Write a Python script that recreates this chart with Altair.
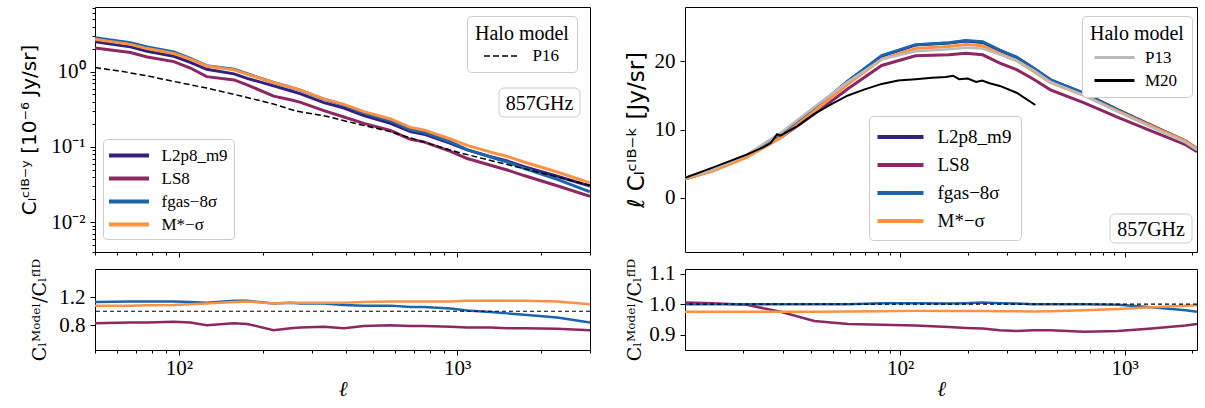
import altair as alt
import pandas as pd

# ---------------- data ----------------
MODELS = ["L2p8_m9", "LS8", "fgas−8σ", "M*−σ"]
COLORS = ["#34207d", "#8c2762", "#1c64ab", "#fd9144"]

# CIB x y (left column)
ell_y = [50, 67, 77, 96, 110, 126, 158, 176, 219, 252, 274, 332, 392, 462,
         576, 679, 759, 946, 1086, 1318, 1513, 1738, 2287, 3000]
cy_fid = [2.51, 2.15, 1.88, 1.61, 1.34, 1.08, 0.94, 0.82, 0.65, 0.56, 0.51,
          0.39, 0.33, 0.261, 0.207, 0.160, 0.148, 0.112, 0.0913, 0.0743,
          0.0650, 0.0548, 0.0407, 0.0302]
ratio_y_ls8 = [0.83, 0.84, 0.84, 0.85, 0.84, 0.80, 0.83, 0.82, 0.73, 0.76, 0.77,
               0.78, 0.76, 0.79, 0.80, 0.79, 0.79, 0.78, 0.77, 0.77, 0.76, 0.76,
               0.75, 0.73]
ratio_y_fgas = [1.13, 1.14, 1.14, 1.14, 1.13, 1.12, 1.15, 1.15, 1.11, 1.12, 1.11,
                1.11, 1.09, 1.08, 1.08, 1.06, 1.06, 1.04, 1.01, 0.99, 0.97, 0.95,
                0.91, 0.84]
ratio_y_mstar = [1.08, 1.08, 1.085, 1.09, 1.10, 1.11, 1.13, 1.14, 1.11, 1.12, 1.12,
                 1.12, 1.12, 1.13, 1.14, 1.14, 1.14, 1.14, 1.15, 1.15, 1.15, 1.15,
                 1.14, 1.10]
ell_p16 = [50, 63, 77, 96, 126, 166, 219, 266, 332, 437, 576, 679, 759, 1000,
           1318, 1738, 2287, 3000]
p16 = [1.14, 1.01, 0.885, 0.745, 0.608, 0.481, 0.373, 0.298, 0.261, 0.203,
       0.160, 0.132, 0.116, 0.0857, 0.066, 0.0515, 0.040, 0.031]

# CIB x kappa (right column)
ell_k = [11, 14.6, 20.7, 29.3, 41.4, 58.5, 82.7, 117, 165, 196, 233, 278, 330,
         393, 467, 660, 933, 1319, 1866, 2100]
ck_fid = [2.77, 4.0, 6.05, 9.03, 13.0, 17.1, 20.8, 22.4, 22.7, 23.0, 22.8, 21.6,
          20.6, 19.0, 17.3, 15.3, 12.9, 10.6, 8.35, 7.2]
ratio_k_ls8 = [1.005, 1.003, 0.998, 0.975, 0.945, 0.935, 0.933, 0.93, 0.925,
               0.922, 0.92, 0.915, 0.912, 0.915, 0.915, 0.91, 0.912, 0.92, 0.93,
               0.935]
ratio_k_fgas = [1.0, 1.0, 1.0, 1.0, 1.0, 1.0, 1.003, 1.003, 1.002, 1.003, 1.005,
                1.003, 1.002, 1.0, 1.0, 1.0, 0.998, 0.99, 0.98, 0.975]
ratio_k_mstar = [0.975, 0.975, 0.975, 0.975, 0.975, 0.976, 0.977, 0.978, 0.978,
                 0.978, 0.978, 0.977, 0.977, 0.976, 0.977, 0.98, 0.984, 0.99,
                 0.995, 0.996]
p13 = [2.9, 4.1, 6.3, 9.5, 13.3, 17.0, 20.3, 21.5, 21.8, 22.0, 21.9, 21.0, 20.1,
       18.7, 17.0, 15.0, 12.6, 10.3, 8.1, 7.0]
ell_m20 = [11, 14.6, 20.7, 24.6, 26.5, 28.3, 29.3, 34.8, 41.4, 49.2, 58.5, 69.5,
           82.7, 98, 117, 139, 160, 172, 183, 200, 218, 232, 250, 278, 330, 400]
m20 = [2.9, 4.4, 6.3, 7.4, 8.0, 9.3, 9.1, 10.5, 12.3, 13.7, 15.0, 15.9, 16.7,
       17.2, 17.4, 17.6, 17.7, 17.9, 17.4, 17.5, 17.0, 17.2, 16.8, 16.4, 15.4, 13.6]

# ---------------- frames ----------------
def model_frames(ell, fid, r_ls8, r_fgas, r_mstar):
    ratios = {MODELS[0]: [1.0] * len(ell), MODELS[1]: r_ls8,
              MODELS[2]: r_fgas, MODELS[3]: r_mstar}
    out = {}
    for m in MODELS:
        out[m] = pd.DataFrame({"ell": ell,
                               "value": [f * r for f, r in zip(fid, ratios[m])],
                               "ratio": ratios[m], "model": m})
    return out

cy = model_frames(ell_y, cy_fid, ratio_y_ls8, ratio_y_fgas, ratio_y_mstar)
ck = model_frames(ell_k, ck_fid, ratio_k_ls8, ratio_k_fgas, ratio_k_mstar)
df_p16 = pd.DataFrame({"ell": ell_p16, "value": p16, "src": "P16"})
df_p13 = pd.DataFrame({"ell": ell_k, "value": p13, "src": "P13"})
df_m20 = pd.DataFrame({"ell": ell_m20, "value": m20, "src": "M20"})
one = pd.DataFrame({"a": [0]})

# ---------------- styling ----------------
SERIF = "Liberation Serif"
WL, WR, HT, HB = 495, 512, 245, 81
LABEL_FS = 21
MAJOR = "abs(log(datum.value)/LN10 - round(log(datum.value)/LN10)) < 0.001"
LOGLAB = ("(" + MAJOR + ") ? '10' + replace(replace(replace(replace(replace(''"
          "+round(log(datum.value)/LN10), '-', '⁻'), '0', '⁰'), '1', '¹'), '2', '²'), '3', '³') : ''")
TICKS = {"condition": {"test": MAJOR, "value": 5}, "value": 3}
LOG_FS = {"condition": {"test": MAJOR, "value": LABEL_FS}, "value": 0}


def minors(lo, hi):
    vals = []
    for e in range(-3, 4):
        for k in range(1, 10):
            v = round(k * 10 ** e, 6)
            if lo <= v <= hi:
                vals.append(v)
    return vals


def xaxis(vals, labels):
    kw = dict(values=vals, tickSize=TICKS, labelExpr=LOGLAB, labelOverlap=False,
              labelFlush=False, labelFont=SERIF, labelFontSize=LOG_FS, labelPadding=2)
    if labels:
        return alt.Axis(title="ℓ", titleFont="DejaVu Serif", titleFontStyle="italic",
                        titleFontSize=21, titlePadding=0, **kw)
    return alt.Axis(title=None, labels=False, **kw)


XL_VALS = minors(50, 3000)
XR_VALS = minors(11, 2100)
xl_scale = alt.Scale(type="log", domain=[50, 3000], nice=False)
xr_scale = alt.Scale(type="log", domain=[11, 2100], nice=False)
model_scale = alt.Scale(domain=MODELS, range=COLORS)


def halo_legend(x, y, root, half_len, sw, sym_off, lab_off, row_pad, dash=None):
    s = half_len / (root / 2.0)
    kw = dict(orient="none", legendX=x, legendY=y, title="Halo model",
              titleFont=SERIF, titleFontSize=20, titleFontWeight="normal",
              titleColor="black", titlePadding=3,
              symbolType="M-%.3f,0H%.3f" % (s, s), symbolSize=root * root,
              symbolStrokeWidth=sw, symbolOffset=sym_off, labelOffset=lab_off,
              labelFont=SERIF, labelFontSize=17, labelColor="black",
              rowPadding=row_pad, padding=8, strokeColor="#cccccc",
              fillColor="white", cornerRadius=4)
    if dash:
        kw["symbolDash"] = dash
        kw["symbolStrokeColor"] = "black"
    return alt.Legend(**kw)


def ghz_box(x1, x2, y1, y2):
    rect = alt.Chart(one).mark_rect(cornerRadius=5, fill="white", stroke="#cccccc",
                                    strokeWidth=1).encode(
        x=alt.value(x1), x2=alt.value(x2), y=alt.value(y1), y2=alt.value(y2))
    txt = alt.Chart(one).mark_text(text="857GHz", font=SERIF, fontSize=20,
                                   color="black", align="center", baseline="middle").encode(
        x=alt.value((x1 + x2) / 2), y=alt.value((y1 + y2) / 2 + 1))
    return [rect, txt]


# ---------------- top left ----------------
x_tl = alt.X("ell:Q", scale=xl_scale, axis=xaxis(XL_VALS, False))
y_tl = alt.Y("value:Q", scale=alt.Scale(type="log", domain=[0.004, 7.3], nice=False),
             axis=alt.Axis(values=minors(0.004, 7.3), tickSize=TICKS, labelExpr=LOGLAB,
                           labelOverlap=False, labelFlush=False, labelFont=SERIF,
                           labelFontSize=LOG_FS, labelPadding=5,
                           title="Cₗᶜᴵᴮ⁻ʸ [10⁻⁶ Jy/sr]", titleFont="DejaVu Sans",
                           titleFontSize=20, titlePadding=11))
leg_l = alt.Legend(orient="none", legendX=8, legendY=132, title=None,
                   symbolType="M-2.353,0H2.353", symbolSize=289, symbolStrokeWidth=4,
                   symbolOffset=9.5, labelOffset=22, labelFont=SERIF, labelFontSize=17,
                   labelColor="black", rowPadding=4, padding=6, strokeColor="#cccccc",
                   fillColor="white", cornerRadius=4)
col_tl = alt.Color("model:N", scale=model_scale, legend=leg_l)
tl_models = alt.layer(*[
    alt.Chart(cy[m]).mark_line(strokeWidth=3, clip=True).encode(x=x_tl, y=y_tl, color=col_tl)
    for m in MODELS])
tl_halo = alt.Chart(df_p16).mark_line(strokeWidth=1.5, strokeDash=[6, 3], clip=True).encode(
    x=x_tl, y=y_tl,
    color=alt.Color("src:N", scale=alt.Scale(domain=["P16"], range=["black"]),
                    legend=halo_legend(372, 9, 16, 16.5, 1.5, 16.5, 23, 4, dash=[6, 3])))
top_left = alt.layer(tl_models, tl_halo, *ghz_box(404, 485, 81, 110)).resolve_scale(
    color="independent").properties(width=WL, height=HT)

# ---------------- bottom left ----------------
x_bl = alt.X("ell:Q", scale=xl_scale, axis=xaxis(XL_VALS, True))
y_bl = alt.Y("ratio:Q", scale=alt.Scale(domain=[0.45, 1.6], nice=False),
             axis=alt.Axis(values=[0.8, 1.2], format=".1f", tickSize=5, labelFont=SERIF,
                           labelFontSize=LABEL_FS, labelPadding=5,
                           title="Cₗᴹᵒᵈᵉˡ/Cₗᶠᴵᴰ", titleFont="DejaVu Serif",
                           titleFontSize=19, titlePadding=9))
col_r = alt.Color("model:N", scale=model_scale, legend=None)
bl_lines = [alt.Chart(cy[m]).mark_line(strokeWidth=2.5, clip=True).encode(
    x=x_bl, y=y_bl, color=col_r) for m in MODELS[1:]]
bl_rule = alt.Chart(one).mark_rule(color="black", strokeDash=[4, 3], strokeWidth=1.2).encode(
    y=alt.datum(1.0))
bottom_left = alt.layer(*bl_lines, bl_rule).properties(width=WL, height=HB)

# ---------------- top right ----------------
x_tr = alt.X("ell:Q", scale=xr_scale, axis=xaxis(XR_VALS, False))
y_tr = alt.Y("value:Q", scale=alt.Scale(domain=[-8, 28], nice=False),
             axis=alt.Axis(values=[0, 10, 20], tickSize=5, labelFont=SERIF,
                           labelFontSize=LABEL_FS, labelPadding=5,
                           title="ℓ Cₗᶜᴵᴮ⁻ᵏ [Jy/sr]", titleFont="DejaVu Sans",
                           titleFontSize=23, titlePadding=6))
leg_r = alt.Legend(orient="none", legendX=184, legendY=109, title=None,
                   symbolType="M-2.3,0H2.3", symbolSize=400, symbolStrokeWidth=4,
                   symbolOffset=10.5, labelOffset=25, labelFont=SERIF, labelFontSize=19,
                   labelColor="black", rowPadding=6, padding=9, strokeColor="#cccccc",
                   fillColor="white", cornerRadius=4)
col_tr = alt.Color("model:N", scale=model_scale, legend=leg_r)
tr_models = alt.layer(*[
    alt.Chart(ck[m]).mark_line(strokeWidth=3, clip=True).encode(x=x_tr, y=y_tr, color=col_tr)
    for m in MODELS])
halo_r_scale = alt.Scale(domain=["P13", "M20"], range=["#bbbbbb", "black"])
leg_hr = halo_legend(397, 9, 18, 20, 3, 14, 20, 4)
tr_p13 = alt.Chart(df_p13).mark_line(strokeWidth=2.5, clip=True).encode(
    x=x_tr, y=y_tr, color=alt.Color("src:N", scale=halo_r_scale, legend=leg_hr))
tr_m20 = alt.Chart(df_m20).mark_line(strokeWidth=2, clip=True).encode(
    x=x_tr, y=y_tr, color=alt.Color("src:N", scale=halo_r_scale, legend=leg_hr))
top_right = alt.layer(tr_models, alt.layer(tr_p13, tr_m20),
                      *ghz_box(425, 507, 207, 236)).resolve_scale(
    color="independent").properties(width=WR, height=HT)

# ---------------- bottom right ----------------
x_br = alt.X("ell:Q", scale=xr_scale, axis=xaxis(XR_VALS, True))
y_br = alt.Y("ratio:Q", scale=alt.Scale(domain=[0.85, 1.115], nice=False),
             axis=alt.Axis(values=[0.9, 1.0, 1.1], format=".1f", tickSize=5,
                           labelFont=SERIF, labelFontSize=LABEL_FS, labelPadding=5,
                           title="Cₗᴹᵒᵈᵉˡ/Cₗᶠᴵᴰ", titleFont="DejaVu Serif",
                           titleFontSize=19, titlePadding=4))
br_lines = [alt.Chart(ck[m]).mark_line(strokeWidth=2.5, clip=True).encode(
    x=x_br, y=y_br, color=col_r) for m in MODELS[1:]]
br_rule = alt.Chart(one).mark_rule(color="black", strokeDash=[4, 3], strokeWidth=1.2).encode(
    y=alt.datum(1.0))
bottom_right = alt.layer(*br_lines, br_rule).properties(width=WR, height=HB)

# ---------------- assemble ----------------
chart = alt.concat(top_left, top_right, bottom_left, bottom_right, columns=2,
                   spacing={"row": 17, "column": 95}, bounds="flush",
                   align="each").resolve_scale(
    color="independent").resolve_legend(color="independent").properties(
    padding={"left": 19, "top": 6, "right": 5, "bottom": 0},
    background="white").configure_view(stroke="black", strokeWidth=1).configure_axis(
    domain=False, grid=False, tickColor="black", labelColor="black", titleColor="black",
    titleFontWeight="normal")

chart.save("out.html", embed_options={"renderer": "svg", "actions": False})
